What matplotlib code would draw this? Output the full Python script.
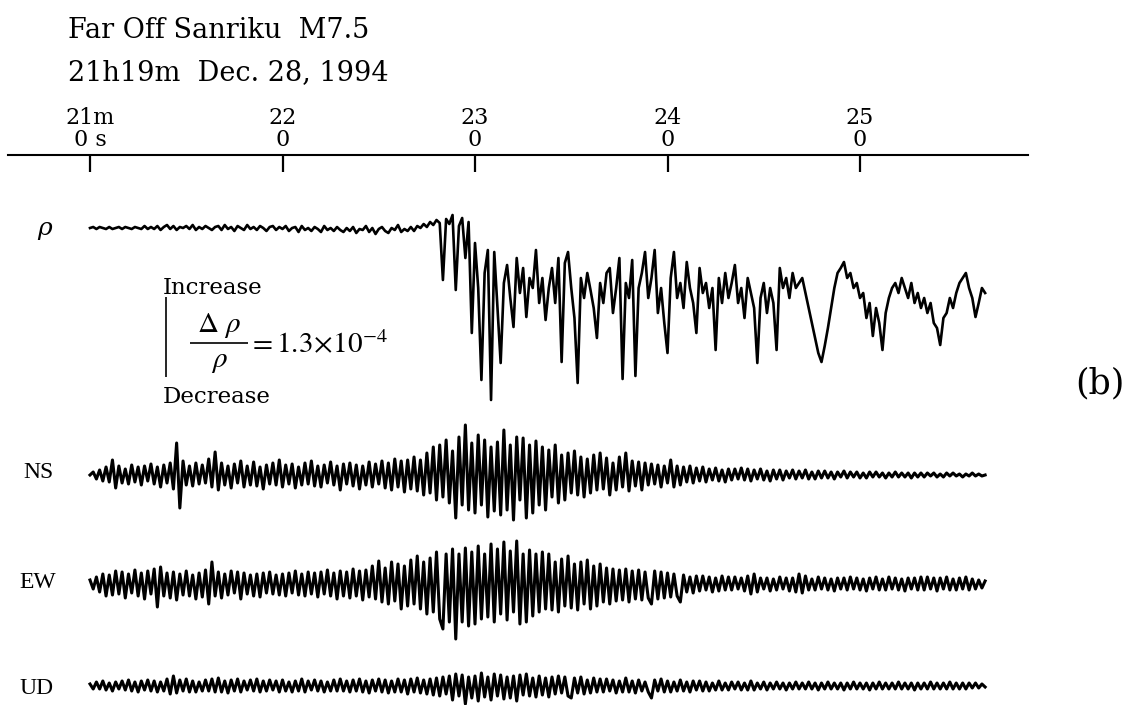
import matplotlib.pyplot as plt

# time axis: seconds after 21h21m00s, one sample per second
t = list(range(280))

tick_sec = [0, 60, 120, 180, 240]
tick_top = ['21m', '22', '23', '24', '25']
tick_bot = ['0 s', '0', '0', '0', '0']

# resistivity trace (upward = increase)
rho = [0, 1, -1, 1, 0, -1, 1, -1, 0, 1, -1, 1, 0, -1, 1, 0, -1, 2, -1, 1,
       -1, 2, -2, 1, 3, -1, 2, -2, 1, 0, 2, -1, 3, -2, 1, -1, 2, 0, -2, 1,
       2, -2, 3, -1, 1, -3, 2, 0, -2, 3, -1, 1, -2, 2, 0, -3, 1, 2, -2, 1,
       -1, 2, -3, 0, 1, -4, 2, -2, 0, -3, 1, -1, -4, 2, -2, 0, -3, 1, -2, -4,
       0, -3, 1, -5, -1, -2, 2, -4, 0, -6, -1, 1, -3, -5, 0, -2, 3, -4, -1, -3,
       1, -3, 2, 0, 4, 1, 6, 3, 8, 5, -52, 9, 4, 13, -62, 2, 10, -30, 6, -105,
       -15, -60, -152, -45, -22, -172, -24, -80, -135, -55, -37, -70, -99, -30, -65, -40, -89, -50, -60, -22,
       -75, -50, -92, -60, -40, -75, -30, -134, -35, -24, -60, -90, -155, -50, -70, -45, -62, -80, -110, -55,
       -75, -45, -40, -85, -60, -30, -151, -55, -70, -32, -148, -60, -45, -24, -70, -50, -22, -85, -60, -95,
       -125, -50, -24, -70, -55, -80, -34, -60, -75, -105, -40, -65, -55, -80, -60, -122, -50, -75, -45, -70,
       -55, -37, -75, -60, -90, -50, -65, -80, -135, -70, -55, -85, -60, -75, -122, -40, -60, -50, -70, -45,
       -60, -55, -50, -65, -80, -95, -110, -125, -134, -118, -100, -80, -60, -45, -40, -34, -50, -45, -60, -55,
       -70, -65, -90, -75, -108, -80, -95, -122, -85, -70, -60, -55, -65, -50, -60, -70, -55, -75, -65, -80,
       -70, -85, -75, -95, -100, -117, -90, -85, -70, -80, -65, -55, -50, -45, -60, -70, -89, -75, -60, -65]

ns = [0, 3, -4, 5, -6, 8, -7, 15, -13, 9, -8, 6, -9, 10, -7, 8, -10, 9, -6, 11,
      -9, 8, -12, 10, -8, 12, -14, 32, -33, 14, -10, 9, -11, 12, -9, 10, -8, 16, -12, 23,
      -15, 12, -10, 9, -13, 11, -8, 14, -12, 9, -10, 13, -11, 8, -14, 10, -9, 12, -10, 15,
      -12, 10, -9, 11, -13, 8, -10, 12, -9, 14, -11, 9, -12, 10, -8, 13, -10, 9, -15, 11,
      -9, 12, -11, 10, -14, 9, -10, 13, -12, 11, -9, 14, -13, 12, -15, 16, -12, 14, -17, 15,
      -14, 18, -16, 15, -20, 22, -18, 28, -25, 30, -22, 35, -28, 24, -43, 38, -30, 50, -35, 32,
      -38, 40, -30, 35, -42, 28, -36, 33, -40, 45, -35, 30, -45, 38, -25, 37, -43, 30, -38, 34,
      -30, 28, -35, 25, -22, 30, -28, 20, -25, 22, -18, 24, -20, 18, -22, 16, -18, 20, -15, 22,
      -14, 17, -20, 12, -15, 18, -12, 22, -16, 14, -11, 13, -15, 12, -10, 11, -9, 10, -12, 9,
      -8, 15, -12, 9, -10, 8, -7, 9, -8, 7, -6, 8, -7, 6, -5, 7, -6, 5, -7, 6,
      -5, 6, -4, 7, -5, 6, -6, 5, -4, 6, -5, 4, -6, 5, -4, 5, -5, 4, -3, 5,
      -4, 4, -3, 5, -4, 3, -4, 4, -3, 4, -3, 3, -4, 3, -2, 4, -3, 3, -2, 3,
      -3, 2, -3, 3, -2, 3, -2, 2, -3, 2, -2, 3, -2, 2, -2, 2, -3, 2, -2, 2,
      -2, 2, -1, 2, -2, 1, -2, 2, -1, 2, -1, 1, -2, 1, -1, 2, -1, 1, -1, 0]

ew = [4, -5, 7, -8, 10, -12, 9, -11, 13, -10, 12, -14, 10, -9, 14, -12, 11, -15, 13, -10,
      15, -23, 17, -12, 11, -14, 12, -16, 10, -11, 13, -12, 9, -15, 11, -13, 14, -20, 22, -12,
      12, -14, 10, -11, 13, -9, 12, -15, 11, -10, 9, -12, 10, -13, 11, -9, 12, -10, 9, -11,
      10, -12, 11, -9, 13, -11, 10, -12, 12, -10, 11, -13, 12, -10, 14, -12, 11, -15, 13, -12,
      12, -14, 15, -12, 13, -16, 14, -13, 18, -15, 23, -18, 16, -20, 22, -17, 20, -25, 18, -22,
      24, -20, 28, -25, 22, -30, 26, -28, 32, -35, -45, 30, -38, 35, -55, 30, -38, 36, -42, 32,
      -40, 38, -35, 30, -33, 40, -38, 35, -30, 42, -36, 33, -28, 43, -40, 30, -38, 34, -32, 30,
      -28, 32, -25, 30, -26, 22, -28, 25, -22, 28, -24, 20, -26, 22, -20, 24, -25, 18, -22, 20,
      -18, 16, -20, 15, -17, 14, -16, 15, -18, 13, -15, 14, -16, 12, -14, -20, 13, -15, 12, -14,
      11, -13, 10, -12, -18, 9, -8, 7, -9, 8, -7, 8, -6, 7, -8, 6, -7, 8, -6, 7,
      -6, 7, -5, 6, -7, 8, -10, 10, -8, 6, -5, 6, -7, 5, -6, 7, -5, 6, -7, 6,
      -8, 10, -9, 8, -6, 5, -6, 7, -5, 6, -6, 5, -7, 6, -5, 6, -6, 7, -5, 6,
      -6, 5, -7, 6, -5, 7, -6, 5, -6, 7, -5, 6, -6, 5, -7, 6, -5, 6, -6, 7,
      -6, 7, -5, 6, -7, 6, -5, 7, -6, 5, -6, 6, -5, 7, -6, 5, -5, 4, -4, 3]

ud = [2, -3, 4, -3, 5, -4, 3, -5, 4, -3, 5, -4, 6, -5, 4, -6, 5, -4, 6, -5,
      5, -6, 4, -5, 7, -8, 10, -7, 6, -5, 7, -6, 5, -6, 4, -5, 6, -5, 7, -6,
      8, -6, 5, -7, 6, -5, 7, -6, 5, -4, 6, -5, 7, -6, 5, -5, 6, -4, 5, -6,
      6, -5, 4, -6, 5, -5, 7, -6, 5, -4, 6, -5, 5, -6, 4, -5, 6, -5, 7, -5,
      5, -6, 6, -5, 7, -6, 5, -7, 6, -5, 7, -6, 6, -7, 5, -6, 7, -6, 6, -8,
      7, -6, 8, -7, 6, -8, 7, -9, 8, -10, 9, -8, 10, -14, 12, -10, 11, -18, 9, -12,
      10, -15, 13, -11, 9, -14, 12, -10, 11, -13, 9, -12, 10, -15, 11, -9, 12, -10, 8, -11,
      10, -9, 8, -11, 9, -8, 10, -7, 9, -10, -12, 8, -7, 9, -8, 6, -7, 8, -6, 7,
      -6, 7, -5, 6, -7, 5, -6, 8, -6, 5, -7, 6, -5, 4, -6, -12, 6, -5, 7, -6,
      5, -6, 4, -5, 6, -5, 4, -6, 5, -4, 5, -5, 4, -5, 3, -4, 5, -4, 3, -4,
      4, -3, 4, -4, 3, -4, 5, -4, 3, -3, 4, -4, 3, -3, 4, -3, 3, -4, 3, -3,
      4, -3, 3, -3, 4, -3, 3, -4, 3, -3, 4, -3, 3, -3, 3, -4, 3, -3, 4, -3,
      3, -3, 3, -4, 3, -3, 4, -3, 3, -3, 3, -3, 4, -3, 3, -3, 3, -4, 3, -3,
      3, -3, 4, -3, 3, -3, 3, -3, 4, -3, 3, -3, 3, -3, 3, -2, 3, -2, 2, -1]

W, H = 1136, 705
fig = plt.figure(figsize=(W / 100, H / 100), dpi=100)
ax = fig.add_axes([0, 0, 1, 1])
# x in seconds (21m00s at px 90, 25m00s at px 860), y in pixel rows
sec_per_px = 240 / 770
ax.set_xlim(-90 * sec_per_px, (W - 90) * sec_per_px)
ax.set_ylim(H, 0)
ax.axis('off')

serif = 'DejaVu Serif'
times = 'Liberation Serif'
plt.rcParams['mathtext.fontset'] = 'stix'

def ftext(x, y, s, **kw):
    fig.text(x / W, 1 - y / H, s, **kw)

def px2sec(x):
    return (x - 90) * sec_per_px

# header
ftext(68, 30, 'Far Off Sanriku  M7.5', fontsize=19.5, family=serif, va='center')
ftext(68, 73, '21h19m  Dec. 28, 1994', fontsize=19.5, family=serif, va='center')

# time axis
ax.plot([px2sec(8), px2sec(1028)], [155, 155], color='black', lw=1.5)
ax.vlines(tick_sec, 155, 172, color='black', lw=1.6)
for s, a, b in zip(tick_sec, tick_top, tick_bot):
    ax.text(s, 118, a, fontsize=16, family=serif, ha='center', va='center')
    ax.text(s, 140, b, fontsize=16, family=serif, ha='center', va='center')

# traces
ax.plot(t, [228 - v for v in rho], color='black', lw=1.9)
for vals, base in [(ns, 475), (ew, 584), (ud, 686)]:
    ax.plot(t, [base - v for v in vals], color='black', lw=2.2)

# labels
ftext(45, 228, 'ρ', fontsize=18, family=serif, style='italic', ha='center', va='center')
ftext(38, 472, 'NS', fontsize=17, family=times, ha='center', va='center')
ftext(38, 583, 'EW', fontsize=17, family=times, ha='center', va='center')
ftext(37, 688, 'UD', fontsize=17, family=times, ha='center', va='center')
ftext(1100, 383, '(b)', fontsize=25, family=serif, ha='center', va='center')

# scale annotation
ax.vlines(px2sec(166), 297, 377, color='black', lw=1.2)
ftext(163, 288, 'Increase', fontsize=16.5, family=serif, va='center')
ftext(163, 397, 'Decrease', fontsize=16.5, family=serif, va='center')
ax.hlines(343, px2sec(190), px2sec(248), color='black', lw=1.2)
ftext(219, 326, r'$\Delta\ \rho$', fontsize=21, ha='center', va='center')
ftext(219, 361, r'$\rho$', fontsize=21, ha='center', va='center')
ftext(248, 345, r'$=1.3\!\times\!10^{-4}$', fontsize=21, va='center')

fig.savefig('out.png', dpi=100)
